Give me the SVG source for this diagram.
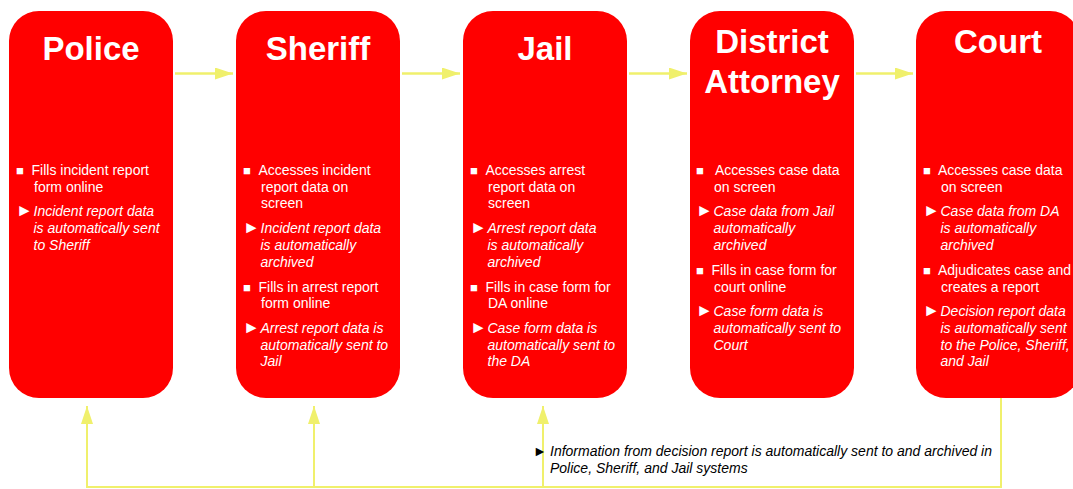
<svg xmlns="http://www.w3.org/2000/svg" width="1073" height="489" viewBox="0 0 1073 489">
<style>
.box{fill:#ff0000}
.t{font-family:"Liberation Sans",Arial,sans-serif;font-weight:bold;font-size:33px;fill:#fff;text-anchor:middle}
.r{font-family:"Liberation Sans",Arial,sans-serif;font-size:14px;fill:#fff}
.i{font-family:"Liberation Sans",Arial,sans-serif;font-size:14px;font-style:italic;fill:#fff}
.sq{font-family:"Liberation Sans",Arial,sans-serif;font-size:13px;fill:#fff}
.tr{font-family:"Liberation Sans",Arial,sans-serif;font-size:17px;fill:#fff}
.cap{font-family:"Liberation Sans",Arial,sans-serif;font-size:14px;font-style:italic;fill:#000}
.ln{stroke:#f0f06c;fill:none}
</style>
<defs>
<marker id="ah" viewBox="0 0 18 12" refX="18" refY="6" markerWidth="18" markerHeight="12" markerUnits="userSpaceOnUse" orient="auto">
<path d="M0,0 L18,6 L0,12 Z" fill="#f0f06c"/>
</marker>
</defs>
<g id="connectors">
<line class="ln" stroke-width="2.5" x1="175" y1="73.5" x2="233" y2="73.5" marker-end="url(#ah)"/>
<line class="ln" stroke-width="2.5" x1="402" y1="73.5" x2="460" y2="73.5" marker-end="url(#ah)"/>
<line class="ln" stroke-width="2.5" x1="629" y1="73.5" x2="687" y2="73.5" marker-end="url(#ah)"/>
<line class="ln" stroke-width="2.5" x1="856" y1="73.5" x2="913" y2="73.5" marker-end="url(#ah)"/>
<polyline class="ln" stroke-width="2" points="1001,384 1001,487 87,487 87,406" marker-end="url(#ah)"/>
<line class="ln" stroke-width="2" x1="314" y1="487" x2="314" y2="406" marker-end="url(#ah)"/>
<line class="ln" stroke-width="2" x1="543" y1="487" x2="543" y2="406" marker-end="url(#ah)"/>
</g>
<g id="police">
<rect class="box" x="9" y="11" width="164" height="387" rx="30" ry="30"/>
<text class="t" x="91" y="60">Police</text>
<text class="sq" x="16" y="175">■</text>
<text class="r" x="31.5" y="175">Fills incident report</text>
<text class="r" x="34" y="191.7">form online</text>
<text class="tr" x="16" y="216">►</text>
<text class="i" x="33.5" y="216">Incident report data</text>
<text class="i" x="33.5" y="233">is automatically sent</text>
<text class="i" x="33.5" y="250">to Sheriff</text>
</g>
<g id="sheriff">
<rect class="box" x="236" y="11" width="164" height="387" rx="30" ry="30"/>
<text class="t" x="318" y="60">Sheriff</text>
<text class="sq" x="243" y="175">■</text>
<text class="r" x="258.5" y="175">Accesses incident</text>
<text class="r" x="261" y="191.7">report data on</text>
<text class="r" x="261" y="208.3">screen</text>
<text class="tr" x="243" y="233">►</text>
<text class="i" x="260.5" y="233">Incident report data</text>
<text class="i" x="260.5" y="250">is automatically</text>
<text class="i" x="260.5" y="267">archived</text>
<text class="sq" x="243" y="291.7">■</text>
<text class="r" x="258.5" y="291.7">Fills in arrest report</text>
<text class="r" x="261" y="308.3">form online</text>
<text class="tr" x="243" y="332.7">►</text>
<text class="i" x="260.5" y="332.7">Arrest report data is</text>
<text class="i" x="260.5" y="349.5">automatically sent to</text>
<text class="i" x="260.5" y="366">Jail</text>
</g>
<g id="jail">
<rect class="box" x="463" y="11" width="164" height="387" rx="30" ry="30"/>
<text class="t" x="545" y="60">Jail</text>
<text class="sq" x="470" y="175">■</text>
<text class="r" x="485.5" y="175">Accesses arrest</text>
<text class="r" x="488" y="191.7">report data on</text>
<text class="r" x="488" y="208.3">screen</text>
<text class="tr" x="470" y="233">►</text>
<text class="i" x="487.5" y="233">Arrest report data</text>
<text class="i" x="487.5" y="250">is automatically</text>
<text class="i" x="487.5" y="267">archived</text>
<text class="sq" x="470" y="291.7">■</text>
<text class="r" x="485.5" y="291.7">Fills in case form for</text>
<text class="r" x="488" y="308.3">DA online</text>
<text class="tr" x="470" y="332.7">►</text>
<text class="i" x="487.5" y="332.7">Case form data is</text>
<text class="i" x="487.5" y="349.5">automatically sent to</text>
<text class="i" x="487.5" y="366">the DA</text>
</g>
<g id="district-attorney">
<rect class="box" x="690" y="11" width="164" height="387" rx="30" ry="30"/>
<text class="t" x="772" y="53">District</text>
<text class="t" x="772" y="93">Attorney</text>
<text class="sq" x="696" y="175">■</text>
<text class="r" x="715" y="175">Accesses case data</text>
<text class="r" x="714" y="191.7">on screen</text>
<text class="tr" x="696" y="216">►</text>
<text class="i" x="713.5" y="216">Case data from Jail</text>
<text class="i" x="713.5" y="233">automatically</text>
<text class="i" x="713.5" y="250">archived</text>
<text class="sq" x="696" y="275">■</text>
<text class="r" x="711.5" y="275">Fills in case form for</text>
<text class="r" x="714" y="291.7">court online</text>
<text class="tr" x="696" y="316">►</text>
<text class="i" x="713.5" y="316">Case form data is</text>
<text class="i" x="713.5" y="333">automatically sent to</text>
<text class="i" x="713.5" y="349.5">Court</text>
</g>
<g id="court">
<rect class="box" x="916" y="11" width="164" height="387" rx="30" ry="30"/>
<text class="t" x="998" y="53">Court</text>
<text class="sq" x="923" y="175">■</text>
<text class="r" x="938" y="175">Accesses case data</text>
<text class="r" x="941" y="191.7">on screen</text>
<text class="tr" x="923" y="216">►</text>
<text class="i" x="940.5" y="216">Case data from DA</text>
<text class="i" x="940.5" y="233">is automatically</text>
<text class="i" x="940.5" y="250">archived</text>
<text class="sq" x="923" y="275">■</text>
<text class="r" x="938" y="275">Adjudicates case and</text>
<text class="r" x="941" y="291.7">creates a report</text>
<text class="tr" x="923" y="316">►</text>
<text class="i" x="940.5" y="316">Decision report data</text>
<text class="i" x="940.5" y="333">is automatically sent</text>
<text class="i" x="940.5" y="349.5">to the Police, Sheriff,</text>
<text class="i" x="940.5" y="366">and Jail</text>
</g>
<g id="caption">
<text class="cap" x="533" y="456" font-style="normal" font-size="15px">►</text>
<text class="cap" x="550" y="456">Information from decision report is automatically sent to and archived in</text>
<text class="cap" x="550" y="472.7">Police, Sheriff, and Jail systems</text>
</g>
</svg>
